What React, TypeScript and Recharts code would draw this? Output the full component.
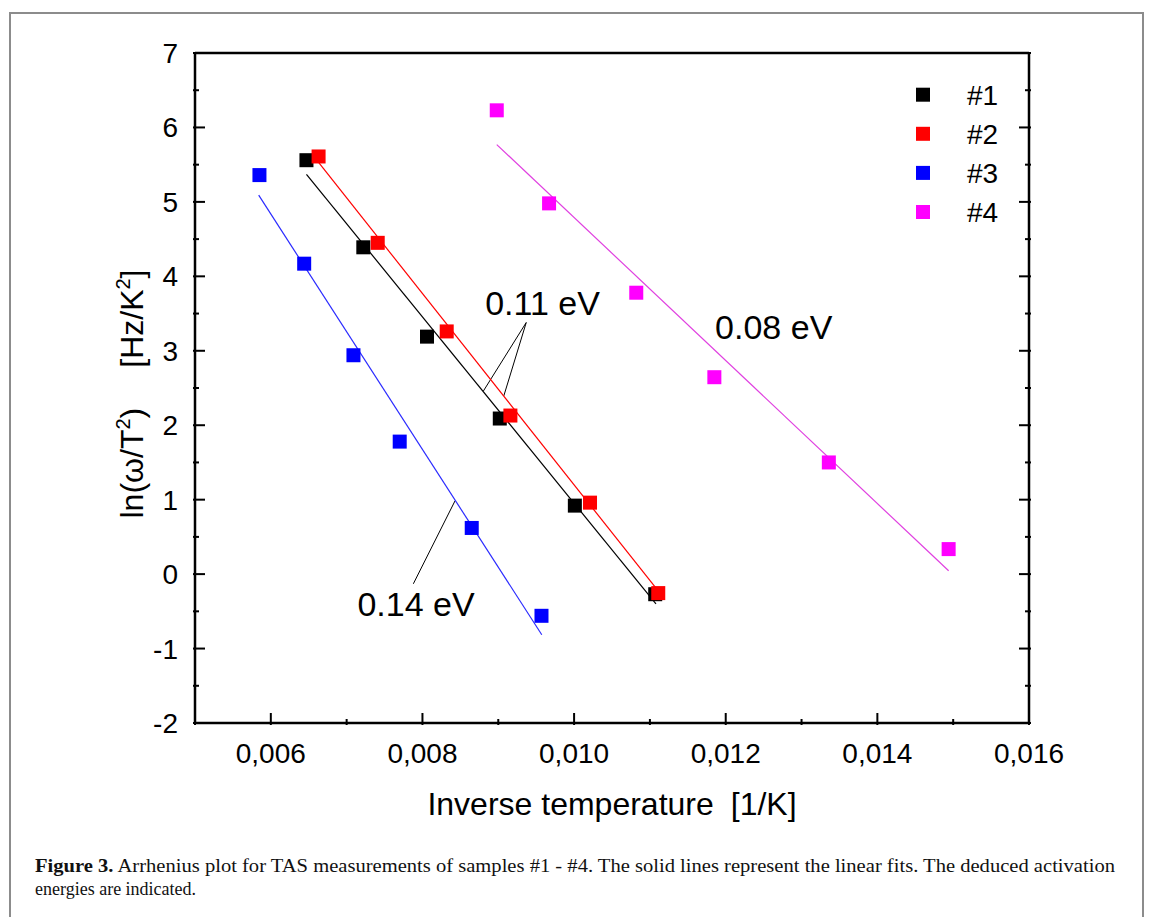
import { ScatterChart, Scatter, XAxis, YAxis, ReferenceLine, ReferenceDot, Legend } from 'recharts'

// measured points, ln(w/T^2) vs 1/T
const s1x = [0.00647, 0.00722, 0.00806, 0.00902, 0.01001, 0.01107]
const s1y = [5.56, 4.39, 3.19, 2.09, 0.92, -0.27]
const s2x = [0.00663, 0.00741, 0.00832, 0.00916, 0.01021, 0.01111]
const s2y = [5.61, 4.45, 3.26, 2.13, 0.96, -0.255]
const s3x = [0.00585, 0.00644, 0.00709, 0.0077, 0.00865, 0.00957]
const s3y = [5.36, 4.17, 2.94, 1.78, 0.62, -0.56]
const s4x = [0.00898, 0.00967, 0.01082, 0.01185, 0.01336, 0.01494]
const s4y = [6.23, 4.98, 3.78, 2.645, 1.5, 0.336]

// linear fits (end points)
const fit1x = [0.00647, 0.01108]
const fit1y = [5.37, -0.4]
const fit2x = [0.00663, 0.01112]
const fit2y = [5.53, -0.24]
const fit3x = [0.00584, 0.009574]
const fit3y = [5.09, -0.814]
const fit4x = [0.00898, 0.01494]
const fit4y = [5.77, 0.045]

const xTicks = [0.005, 0.006, 0.007, 0.008, 0.009, 0.01, 0.011, 0.012, 0.013, 0.014, 0.015, 0.016]
const yTicks = [-2, -1.5, -1, -0.5, 0, 0.5, 1, 1.5, 2, 2.5, 3, 3.5, 4, 4.5, 5, 5.5, 6, 6.5, 7]

const FONT = '"Liberation Sans", Arial, sans-serif'

const zip = (xs: number[], ys: number[]) => xs.map((x, i) => ({ x, y: ys[i] }))

const series = [
  { name: '#1', color: '#000000', line: '#000000', pts: zip(s1x, s1y), fit: zip(fit1x, fit1y) },
  { name: '#2', color: '#ff0000', line: '#ff0000', pts: zip(s2x, s2y), fit: zip(fit2x, fit2y) },
  { name: '#3', color: '#0000ff', line: '#2a2aff', pts: zip(s3x, s3y), fit: zip(fit3x, fit3y) },
  { name: '#4', color: '#ff00ff', line: '#e040e0', pts: zip(s4x, s4y), fit: zip(fit4x, fit4y) },
]

const fmtX = (v: number) => v.toFixed(3).replace('.', ',')

function XTick(props: any) {
  const { x, y, payload, side } = props
  const v = payload.value as number
  const major = Math.round(v * 1000) % 2 === 0
  const len = major ? 12 : 6
  const dir = side === 'bottom' ? -1 : 1
  return (
    <g>
      <line x1={x} y1={y} x2={x} y2={y + dir * len} stroke="#000" strokeWidth={2} />
      {side === 'bottom' && major && (
        <text x={x} y={y + 38} textAnchor="middle" fontSize={28} fontFamily={FONT} fill="#000">
          {fmtX(v)}
        </text>
      )}
    </g>
  )
}

function YTick(props: any) {
  const { x, y, payload, side } = props
  const v = payload.value as number
  const major = Number.isInteger(v)
  const len = major ? 12 : 6
  const dir = side === 'left' ? 1 : -1
  return (
    <g>
      <line x1={x} y1={y} x2={x + dir * len} y2={y} stroke="#000" strokeWidth={2} />
      {side === 'left' && major && (
        <text x={x - 15} y={y + 10} textAnchor="end" fontSize={28} fontFamily={FONT} fill="#000">
          {v}
        </text>
      )}
    </g>
  )
}

const square = (p: any) => (
  <rect x={p.cx - 7} y={p.cy - 7} width={14} height={14} fill={p.fill} />
)
const noShape = () => <g />

const eVLabel = (text: string) => (p: any) => (
  <text x={p.cx} y={p.cy} textAnchor="middle" fontSize={34} fontFamily={FONT} fill="#000">
    {text}
  </text>
)

const xTitle = (p: any) => {
  const vb = p.viewBox
  return (
    <text x={vb.x + vb.width / 2} y={vb.y + 92} textAnchor="middle" fontSize={32} fontFamily={FONT} fill="#000">
      Inverse temperature<tspan dx={17}>[1/K]</tspan>
    </text>
  )
}

const yTitle = (p: any) => {
  const vb = p.viewBox
  const cx = vb.x + vb.width - 63
  const cy = 394
  return (
    <text
      transform={`translate(${cx},${cy}) rotate(-90)`}
      x={0}
      y={11}
      textAnchor="middle"
      fontSize={32}
      fontFamily={FONT}
      fill="#000"
    >
      ln(ω/T<tspan dy={-13} fontSize={20}>2</tspan>
      <tspan dy={13}>)</tspan>
      <tspan dx={40}>[Hz/K</tspan>
      <tspan dy={-13} fontSize={20}>2</tspan>
      <tspan dy={13}>]</tspan>
    </text>
  )
}

const legendContent = (p: any) => {
  const items = (p.payload || []).filter((e: any) => e.type !== 'none')
  return (
    <svg width={110} height={170}>
      {items.map((e: any, i: number) => (
        <g key={e.value}>
          <rect x={2} y={7.7 + 39.1 * i} width={14} height={14} fill={e.color} />
          <text x={53} y={24.7 + 39.1 * i} fontSize={28} fontFamily={FONT} fill="#000">
            {e.value}
          </text>
        </g>
      ))}
    </svg>
  )
}

export default function App() {
  return (
    <div style={{ position: 'absolute', left: 0, top: 0, width: 1155, height: 917, background: '#fff', overflow: 'hidden' }}>
      <div
        style={{
          position: 'absolute',
          left: 9,
          top: 12,
          width: 1135,
          height: 940,
          border: '2px solid #8c8c8c',
          boxSizing: 'border-box',
        }}
      />
      <div style={{ position: 'absolute', left: 0, top: 0 }}>
        <ScatterChart width={1155} height={917} margin={{ top: 52, right: 125, bottom: 193, left: 0 }}>
          <XAxis
            type="number"
            dataKey="x"
            domain={[0.005, 0.016]}
            ticks={xTicks}
            interval={0}
            allowDataOverflow
            height={1}
            tickSize={0}
            tickLine={false}
            axisLine={{ stroke: '#000', strokeWidth: 2.5 }}
            tick={(p: any) => <XTick {...p} side="bottom" />}
            label={xTitle}
          />
          <XAxis
            xAxisId="top"
            orientation="top"
            type="number"
            domain={[0.005, 0.016]}
            ticks={xTicks}
            interval={0}
            allowDataOverflow
            height={1}
            tickSize={0}
            tickLine={false}
            axisLine={{ stroke: '#000', strokeWidth: 2.5 }}
            tick={(p: any) => <XTick {...p} side="top" />}
          />
          <YAxis
            type="number"
            dataKey="y"
            domain={[-2, 7]}
            ticks={yTicks}
            interval={0}
            allowDataOverflow
            width={195}
            tickSize={0}
            tickLine={false}
            axisLine={{ stroke: '#000', strokeWidth: 2.5 }}
            tick={(p: any) => <YTick {...p} side="left" />}
            label={yTitle}
          />
          <YAxis
            yAxisId="right"
            orientation="right"
            type="number"
            domain={[-2, 7]}
            ticks={yTicks}
            interval={0}
            allowDataOverflow
            width={1}
            tickSize={0}
            tickLine={false}
            axisLine={{ stroke: '#000', strokeWidth: 2.5 }}
            tick={(p: any) => <YTick {...p} side="right" />}
          />

          {series.map(s => (
            <Scatter
              key={'fit' + s.name}
              data={s.fit}
              fill={s.line}
              line={{ stroke: s.line, strokeWidth: 1.2 }}
              shape={noShape}
              legendType="none"
              isAnimationActive={false}
            />
          ))}

          <ReferenceLine segment={[{ x: 0.009369, y: 3.38 }, { x: 0.008804, y: 2.46 }]} stroke="#000" strokeWidth={1} />
          <ReferenceLine segment={[{ x: 0.009369, y: 3.38 }, { x: 0.009073, y: 2.394 }]} stroke="#000" strokeWidth={1} />
          <ReferenceLine segment={[{ x: 0.00788, y: -0.13 }, { x: 0.00843, y: 0.985 }]} stroke="#000" strokeWidth={1} />

          {series.map(s => (
            <Scatter
              key={s.name}
              name={s.name}
              data={s.pts}
              fill={s.color}
              shape={square}
              legendType="square"
              isAnimationActive={false}
            />
          ))}

          <ReferenceDot x={0.009584} y={3.483} r={0} shape={eVLabel('0.11 eV')} />
          <ReferenceDot x={0.012633} y={3.152} r={0} shape={eVLabel('0.08 eV')} />
          <ReferenceDot x={0.007915} y={-0.559} r={0} shape={eVLabel('0.14 eV')} />

          <Legend
            layout="vertical"
            align="center"
            verticalAlign="middle"
            content={legendContent}
            wrapperStyle={{ left: 914, top: 80, width: 110, height: 170 }}
          />
        </ScatterChart>
      </div>
      <svg style={{ position: 'absolute', left: 0, top: 0 }} width={1155} height={917} pointerEvents="none">
        <text
          x={35}
          y={871.5}
          fontSize={18}
          fontFamily='"Liberation Serif", "DejaVu Serif", serif'
          fill="#111"
          textLength={1080}
          lengthAdjust="spacingAndGlyphs"
        >
          <tspan fontWeight="bold">Figure 3.</tspan> Arrhenius plot for TAS measurements of samples #1 - #4. The solid lines
          represent the linear fits. The deduced activation
        </text>
        <text x={35} y={895} fontSize={18} fontFamily='"Liberation Serif", "DejaVu Serif", serif' fill="#111">
          energies are indicated.
        </text>
      </svg>
    </div>
  )
}
